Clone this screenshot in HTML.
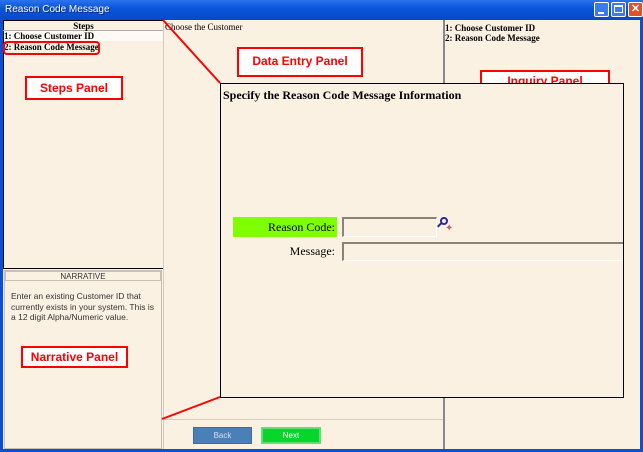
<!DOCTYPE html>
<html><head><style>
*{margin:0;padding:0;box-sizing:border-box}
body{width:643px;height:452px;overflow:hidden;background:#0b4fd8;position:relative;font-family:"Liberation Serif",serif}
.a{position:absolute}
.t{font-size:9px;font-weight:bold;color:#000;white-space:nowrap}
.lbl{position:absolute;border:2px solid #f00;background:#fff;color:#f00;font:bold 12px "Liberation Sans",sans-serif;text-align:center}
</style></head><body>
<div class="a" style="left:0;top:0;width:643px;height:20px;background:linear-gradient(#2a73ee,#0a56dc 40%,#0848c8)"></div>
<div class="a" style="left:5px;top:4px;color:#fff;font:10px 'Liberation Sans',sans-serif;text-shadow:1px 1px #0a2a80">Reason Code Message</div>
<div class="a" style="left:594px;top:2px;width:15px;height:15px;background:#3d7af0;border:1px solid #fff;border-radius:2px"></div>
<div class="a" style="left:598px;top:12px;width:6px;height:2px;background:#fff"></div>
<div class="a" style="left:611px;top:2px;width:15px;height:15px;background:#3d7af0;border:1px solid #fff;border-radius:2px"></div>
<div class="a" style="left:614px;top:5px;width:9px;height:8px;border:1px solid #fff;border-top-width:2px"></div>
<div class="a" style="left:628px;top:2px;width:15px;height:15px;background:#e0502a;border:1px solid #fff;border-radius:2px;color:#fff;font:bold 11px 'Liberation Sans';text-align:center;line-height:13px">✕</div>
<div class="a" style="left:3px;top:20px;width:637px;height:429px;background:#fbf1e3"></div>
<!-- steps panel -->
<div class="a" style="left:3px;top:20px;width:161px;height:249px;border:1px solid #000"></div>
<div class="a t" style="left:3px;top:21px;width:161px;text-align:center;border-bottom:1px solid #aaa;height:10px;line-height:10px">Steps</div>
<div class="a" style="left:4px;top:31px;width:159px;height:10px;background:#fffaf6"></div>
<div class="a t" style="left:4px;top:31px;line-height:10px">1: Choose Customer ID</div>
<div class="a t" style="left:4px;top:42px;line-height:10px">2: Reason Code Message</div>
<div class="a" style="left:3px;top:41px;width:97px;height:14px;border:2px solid #f00;border-radius:4px"></div>
<div class="lbl" style="left:25px;top:76px;width:98px;height:24px;line-height:20px">Steps Panel</div>
<!-- narrative -->
<div class="a" style="left:4px;top:270px;width:158px;height:179px;border:1px solid #c8c0b4"></div>
<div class="a" style="left:5px;top:271px;width:156px;height:10px;border:1px solid #c8c0b4;font:8px 'Liberation Sans',sans-serif;text-align:center;line-height:9px;color:#333">NARRATIVE</div>
<div class="a" style="left:11px;top:291px;width:150px;font:8.5px/10.5px 'Liberation Sans',sans-serif;color:#333">Enter an existing Customer ID that currently exists in your system. This is a 12 digit Alpha/Numeric value.</div>
<div class="lbl" style="left:21px;top:346px;width:107px;height:22px;line-height:18px">Narrative Panel</div>
<!-- center -->
<div class="a t" style="left:165px;top:22px;font-weight:normal;font-size:9px">Choose the Customer</div>
<div class="a" style="left:443px;top:20px;width:2px;height:429px;background:#888"></div>
<div class="a" style="left:163px;top:419px;width:280px;height:1px;background:#d6ccbc"></div>
<div class="a" style="left:163px;top:20px;width:1px;height:429px;background:#d6ccbc"></div>
<div class="lbl" style="left:237px;top:47px;width:126px;height:30px;line-height:24px">Data Entry Panel</div>
<div class="a" style="left:193px;top:427px;width:59px;height:17px;background:#4a80b8;border:1px solid #3a6ea0;color:#dde;font:8px 'Liberation Sans';text-align:center;line-height:15px">Back</div>
<div class="a" style="left:261px;top:427px;width:60px;height:17px;background:#06d62a;border:2px solid #5fe070;color:#fff;font:8px 'Liberation Sans';text-align:center;line-height:13px">Next</div>
<!-- inquiry -->
<div class="a t" style="left:445px;top:23px;line-height:10px">1: Choose Customer ID<br>2: Reason Code Message</div>
<div class="lbl" style="left:480px;top:70px;width:130px;height:20px;line-height:18px">Inquiry Panel</div>
<!-- dialog -->
<div class="a" style="left:220px;top:83px;width:404px;height:315px;border:1px solid #000;background:#fbf1e3"></div>
<div class="a" style="left:223px;top:88px;font:bold 12px 'Liberation Serif',serif">Specify the Reason Code Message Information</div>
<div class="a" style="left:233px;top:217px;width:104px;height:20px;background:#80ff00;font:12px 'Liberation Serif';text-align:right;line-height:20px;padding-right:2px">Reason Code:</div>
<div class="a" style="left:342px;top:217px;width:95px;height:20px;border:2px solid #8a8478;border-right:1px solid #fff;border-bottom:1px solid #fff"></div>
<div class="a" style="left:440px;top:217px;width:8px;height:8px;border:2px solid #2a2a9a;border-radius:50%"></div>
<div class="a" style="left:437px;top:224px;width:5px;height:2px;background:#2a2a9a;transform:rotate(-45deg)"></div>
<div class="a" style="left:445px;top:223px;color:#c06070;font-size:10px">✦</div>
<div class="a" style="left:233px;top:242px;width:104px;height:18px;font:12px 'Liberation Serif';text-align:right;line-height:18px;padding-right:2px">Message:</div>
<div class="a" style="left:342px;top:242px;width:281px;height:19px;border:2px solid #8a8478;border-bottom:1px solid #fff;border-right:0"></div>
<svg class="a" style="left:0;top:0" width="643" height="452"><line x1="163" y1="20" x2="220" y2="83" stroke="#f00" stroke-width="2"/><line x1="162" y1="419" x2="220" y2="397" stroke="#f00" stroke-width="2"/></svg>
</body></html>
